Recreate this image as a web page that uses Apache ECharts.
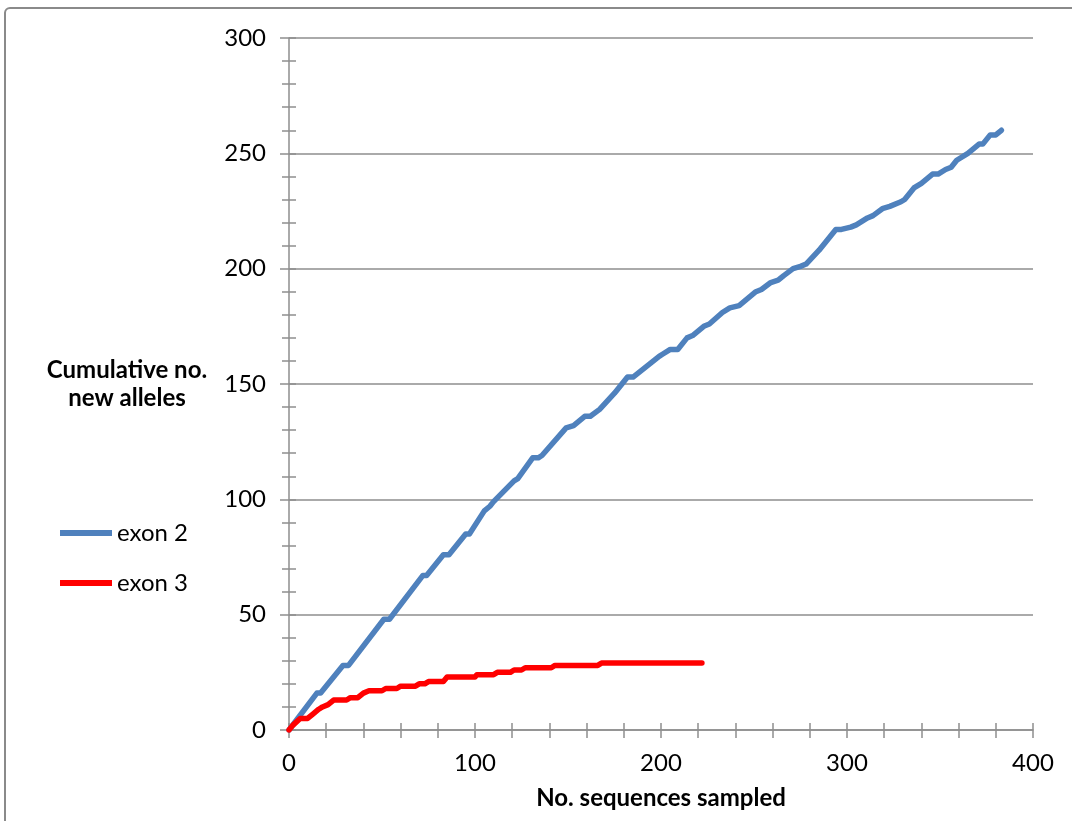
<!DOCTYPE html>
<html>
<head>
<meta charset="utf-8">
<script src="https://cdn.jsdelivr.net/npm/echarts@6/dist/echarts.min.js"></script>
<style>
  html, body { margin: 0; padding: 0; background: #ffffff; }
  #chart { width: 1072px; height: 821px; }
</style>
</head>
<body>
<div id="chart"></div>
<script>
// Series names shown in the legend
const seriesNames = ['exon 2', 'exon 3'];

// [No. sequences sampled, cumulative no. new alleles] at each turn of the curve
const exon2Points = [
  [0, 0], [15, 16], [17, 16], [29, 28], [32, 28], [51, 48], [54, 48],
  [72, 67], [74, 67], [83, 76], [86, 76], [95, 85], [97, 85], [105, 95],
  [108, 97], [110, 99], [121, 108], [123, 109], [131, 118], [134, 118],
  [136, 119], [149, 131], [153, 132], [159, 136], [162, 136], [167, 139],
  [175, 146], [182, 153], [185, 153], [199, 162], [201, 163], [205, 165],
  [209, 165], [214, 170], [217, 171], [223, 175], [226, 176], [233, 181],
  [237, 183], [242, 184], [251, 190], [254, 191], [259, 194], [263, 195],
  [266, 197], [271, 200], [275, 201], [278, 202], [285, 208], [294, 217],
  [297, 217], [302, 218], [305, 219], [311, 222], [314, 223], [319, 226],
  [323, 227], [329, 229], [331, 230], [336, 235], [340, 237], [346, 241],
  [349, 241], [353, 243], [356, 244], [359, 247], [365, 250], [371, 254],
  [373, 254], [377, 258], [380, 258], [383, 260]
];

const exon3Points = [
  [0, 0], [2, 2], [6, 5], [10, 5], [13, 7], [16, 9], [18, 10], [21, 11],
  [22, 11], [24, 13], [31, 13], [33, 14], [37, 14], [40, 16], [43, 17],
  [50, 17], [52, 18], [58, 18], [60, 19], [68, 19], [70, 20], [73, 20],
  [75, 21], [83, 21], [85, 23], [100, 23], [101, 24], [110, 24], [112, 25],
  [119, 25], [121, 26], [125, 26], [127, 27], [141, 27], [143, 28],
  [166, 28], [168, 29], [222, 29]
];

// Axis ranges and tick steps
const xRange = [0, 400];
const yRange = [0, 300];
const xTickStep = 20, xLabelStep = 100;
const yTickStep = 10, yLabelStep = 50;

const FONT = 'Lato, "Liberation Sans", Arial, sans-serif';
const AXIS_GREY = '#8e8e8e';
const seriesColors = ['#4f81bd', '#ff0000'];

const chart = echarts.init(document.getElementById('chart'), null, { renderer: 'canvas' });

const tickStyle = { color: AXIS_GREY, width: 1.5 };

chart.setOption({
  backgroundColor: '#ffffff',
  animation: false,
  grid: { left: 289, right: 39, top: 38, bottom: 91, containLabel: false, outerBoundsMode: 'none' },
  xAxis: [
    {
      type: 'value', position: 'bottom', min: xRange[0], max: xRange[1], interval: xTickStep,
      axisLine: { show: true, lineStyle: tickStyle },
      axisTick: { show: true, inside: false, length: 8, lineStyle: tickStyle },
      axisLabel: {
        margin: 21, fontSize: 24, color: '#000', fontFamily: FONT,
        formatter: v => (v % xLabelStep === 0 ? String(v) : '')
      },
      splitLine: { show: false },
      name: 'No. sequences sampled', nameLocation: 'middle', nameGap: 56,
      nameTextStyle: { fontWeight: 'bold', fontSize: 24, color: '#000', fontFamily: FONT }
    },
    {
      type: 'value', position: 'bottom', min: xRange[0], max: xRange[1], interval: xTickStep,
      axisLine: { show: false },
      axisTick: { show: true, inside: true, length: 7, lineStyle: tickStyle },
      axisLabel: { show: false },
      splitLine: { show: false }
    }
  ],
  yAxis: [
    {
      type: 'value', position: 'left', min: yRange[0], max: yRange[1], interval: yTickStep,
      axisLine: { show: true, lineStyle: tickStyle },
      axisTick: { show: true, inside: false, length: 7, lineStyle: tickStyle },
      axisLabel: {
        margin: 23, fontSize: 24, color: '#000', fontFamily: FONT,
        formatter: v => (v % yLabelStep === 0 ? String(v) : '')
      },
      splitLine: { show: false }
    },
    {
      type: 'value', position: 'left', min: yRange[0], max: yRange[1], interval: yTickStep,
      axisLine: { show: false },
      axisTick: { show: true, inside: true, length: 7, lineStyle: tickStyle },
      axisLabel: { show: false },
      splitLine: { show: false }
    },
    {
      type: 'value', position: 'left', min: yRange[0], max: yRange[1], interval: yLabelStep,
      axisLine: { show: false },
      axisTick: { show: true, inside: false, length: 9, lineStyle: tickStyle },
      axisLabel: { show: false },
      splitLine: { show: true, lineStyle: { color: AXIS_GREY, width: 1.5 } }
    }
  ],
  legend: {
    orient: 'vertical', left: 60, top: 521, padding: 0,
    itemWidth: 52, itemHeight: 6, itemGap: 26, icon: 'rect',
    textStyle: { fontSize: 24, color: '#000', fontFamily: FONT },
    data: seriesNames
  },
  graphic: [
    {
      type: 'rect', silent: true, z: -10,
      shape: { x: 5, y: 8, width: 1100, height: 900, r: 5 },
      style: { fill: 'none', stroke: '#8a8a8a', lineWidth: 2 }
    },
    {
      type: 'text', silent: true, x: 127, y: 384,
      style: {
        text: 'Cumulative no.\nnew alleles', textAlign: 'center', textVerticalAlign: 'middle',
        font: 'bold 24px ' + FONT, lineHeight: 28, fill: '#000'
      }
    }
  ],
  series: [
    {
      name: seriesNames[0], type: 'line', data: exon2Points, showSymbol: false,
      xAxisIndex: 0, yAxisIndex: 0,
      lineStyle: { color: seriesColors[0], width: 5.5, cap: 'round', join: 'round' },
      itemStyle: { color: seriesColors[0] }, z: 3
    },
    {
      name: seriesNames[1], type: 'line', data: exon3Points, showSymbol: false,
      xAxisIndex: 0, yAxisIndex: 0,
      lineStyle: { color: seriesColors[1], width: 5.5, cap: 'round', join: 'round' },
      itemStyle: { color: seriesColors[1] }, z: 4
    }
  ]
});
</script>
</body>
</html>
